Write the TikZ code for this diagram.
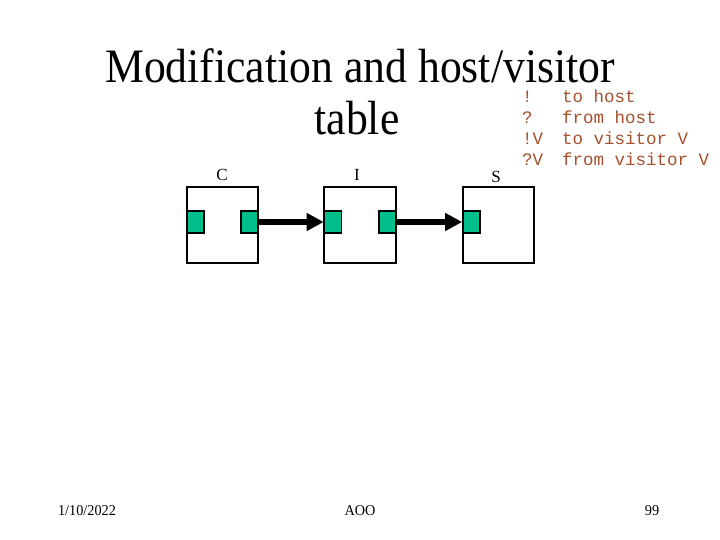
\documentclass[tikz,border=0pt]{standalone}
\usepackage{fontspec}
\setmainfont{Liberation Serif}
\setmonofont{Liberation Mono}
\usetikzlibrary{arrows.meta}
\definecolor{portgreen}{RGB}{0,190,140}
\definecolor{legendbrown}{RGB}{165,80,45}
\tikzset{
  comp/.style={draw=black, line width=2pt, fill=white},
  port/.style={draw=black, line width=1.6pt, fill=portgreen, minimum width=17pt, minimum height=22pt, inner sep=0pt},
  flow/.style={line width=5.5pt, -{Triangle[length=17pt,width=17pt]}},
  lbl/.style={font=\fontsize{17}{17}\selectfont, inner sep=0pt},
  leg/.style={font=\ttfamily\fontsize{17.5}{17.5}\selectfont, text=legendbrown, inner sep=0pt, anchor=base west},
  foot/.style={font=\fontsize{15}{15}\selectfont, inner sep=0pt, xscale=0.95},
  ttl/.style={font=\fontsize{48}{48}\selectfont, inner sep=0pt, anchor=base, xscale=0.91}
}
\begin{document}
\begin{tikzpicture}[x=1pt,y=-1pt]
\useasboundingbox (0,0) rectangle (720,540);
% title
\node[ttl] (t1) at (360,83) {Modification and host/visitor};
\node[ttl] (t2) at (357,135) {table};
% legend
\node[leg] (l1a) at (522,103) {!};
\node[leg] (l1b) at (562,103) {to host};
\node[leg] (l2a) at (522,124) {?};
\node[leg] (l2b) at (562,124) {from host};
\node[leg] (l3a) at (522,145) {!V};
\node[leg] (l3b) at (562,145) {to visitor V};
\node[leg] (l4a) at (522,166) {?V};
\node[leg] (l4b) at (562,166) {from visitor V};
% components
\draw[comp] (187,187) rectangle (258,263);
\draw[comp] (324,187) rectangle (396,263);
\draw[comp] (463,187) rectangle (534,263);
\node[lbl] (cl) at (222,175) {C};
\node[lbl] (il) at (357,175) {I};
\node[lbl] (sl) at (496,177) {S};
% ports
\node[port] (c1) at (195.5,222) {};
\node[port] (c2) at (249.5,222) {};
\node[port] (i1) at (333,222) {};
\node[port] (i2) at (387.5,222) {};
\node[port] (s1) at (471.5,222) {};
% connectors
\draw[flow] (c2.east) -- (i1.west);
\draw[flow] (i2.east) -- (s1.west);
% footer
\node[foot] (d) at (87,511) {1/10/2022};
\node[foot] (a) at (360,511) {AOO};
\node[foot] (p) at (652,511) {99};
\end{tikzpicture}
\end{document}
